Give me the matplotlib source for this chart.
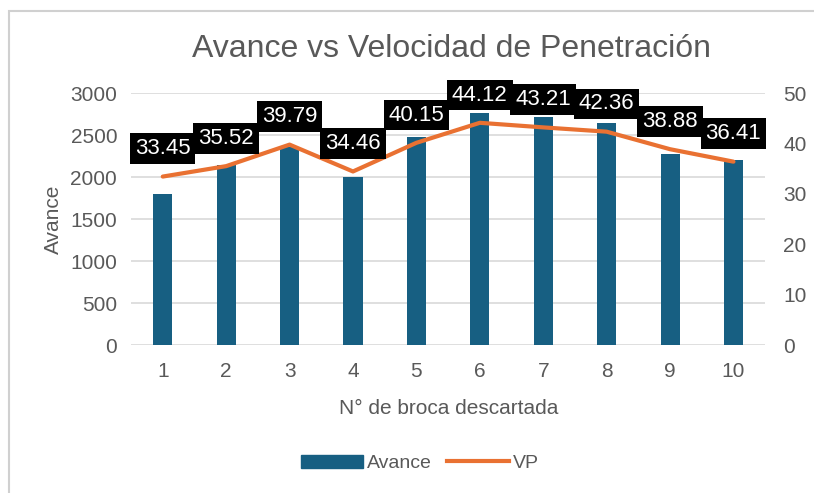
import numpy as np
import matplotlib
matplotlib.use("Agg")
import matplotlib.pyplot as plt
from matplotlib.patches import Rectangle
from matplotlib.lines import Line2D

plt.rcParams['font.family'] = ['Liberation Sans', 'DejaVu Sans']

brocas = [1, 2, 3, 4, 5, 6, 7, 8, 9, 10]
avance = [1795, 2150, 2360, 2000, 2475, 2760, 2715, 2640, 2280, 2200]
vp = [33.45, 35.52, 39.79, 34.46, 40.15, 44.12, 43.21, 42.36, 38.88, 36.41]

bar_color = '#175F82'
line_color = '#E97132'
text_color = '#595959'
grid_color = '#D9D9D9'

fig = plt.figure(figsize=(8.14, 4.93), dpi=100)
ax = fig.add_axes([0.161, 0.300, 0.779, 0.511])
ax2 = ax.twinx()

x = np.arange(len(brocas))
ax.bar(x, avance, width=0.3, color=bar_color, zorder=2)
ax2.plot(x, vp, color=line_color, lw=3, solid_capstyle='round', zorder=3)

for xi, v in zip(x, vp):
    ax2.annotate(f"{v:.2f}", (xi, v), xytext=(0, 20), textcoords='offset points',
                 ha='center', va='center', fontsize=16, color='white',
                 bbox=dict(boxstyle='square,pad=0.22', fc='black', ec='none'))

ax.set_xlim(-0.5, len(brocas) - 0.5)
ax.set_ylim(0, 3000)
ax.set_yticks(np.arange(0, 3001, 500))
ax2.set_ylim(0, 50)
ax2.set_yticks(np.arange(0, 51, 10))
ax.set_xticks(x)
ax.set_xticklabels([str(b) for b in brocas])

ax.grid(axis='y', color=grid_color, lw=1.2, zorder=0)
ax.set_axisbelow(True)
for a in (ax, ax2):
    for s in a.spines.values():
        s.set_visible(False)
    a.tick_params(length=0, labelsize=15, labelcolor=text_color)
ax.tick_params(axis='y', pad=10)
ax.tick_params(axis='x', pad=12)
ax2.tick_params(axis='y', pad=13)

ax.set_ylabel("Avance", fontsize=15, color=text_color, labelpad=5)
fig.text(0.551, 0.172, "N° de broca descartada", ha='center', va='center',
         fontsize=15, color=text_color)
fig.text(0.555, 0.900, "Avance vs Velocidad de Penetración", ha='center', va='center',
         fontsize=23, color=text_color)

handles = [Rectangle((0, 0), 1, 1, color=bar_color),
           Line2D([0], [0], color=line_color, lw=3)]
fig.legend(handles, ["Avance", "VP"], loc='center', bbox_to_anchor=(0.516, 0.06),
           ncol=2, frameon=False, fontsize=14, labelcolor=text_color,
           handlelength=3.2, handletextpad=0.2, columnspacing=0.8)

fig.patches.append(Rectangle((9 / 814, -0.1), 1.2, 1.1 - 11 / 493, transform=fig.transFigure,
                             fill=False, ec='#D0D0D0', lw=1.5))

fig.savefig("out.png", dpi=100)
